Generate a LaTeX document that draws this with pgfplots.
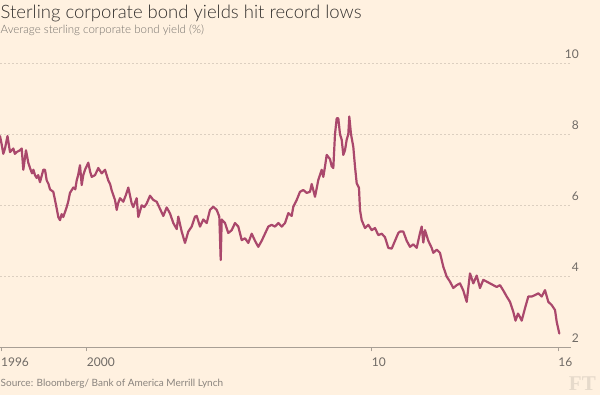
\documentclass[border=0pt]{standalone}
\usepackage{fontspec}
\setmainfont{Lato}
\newfontfamily\lightfont{Lato}[UprightFont=* Light]
\newfontfamily\logofont{Liberation Serif}
\usepackage{pgfplots}
\pgfplotsset{compat=1.18}
\definecolor{bg}{HTML}{FFF1E0}
\definecolor{linec}{HTML}{AA486C}
\definecolor{gridc}{HTML}{DCCFC0}
\definecolor{axisc}{HTML}{A89F95}
\definecolor{titlec}{HTML}{33302E}
\definecolor{subc}{HTML}{74706B}
\definecolor{tickc}{HTML}{6F6A65}
\definecolor{srcc}{HTML}{8A847E}
\definecolor{logoc}{HTML}{E6DACB}
\pgfplotstableread{
x y
1996.958 7.95
1997.020 7.70
1997.074 7.45
1997.133 7.60
1997.221 7.95
1997.270 7.70
1997.309 7.50
1997.425 7.60
1997.480 7.45
1997.544 7.50
1997.660 7.55
1997.719 7.60
1997.776 7.00
1997.870 7.55
1997.951 7.20
1998.011 7.05
1998.081 6.90
1998.130 7.00
1998.186 6.85
1998.246 6.77
1998.300 6.85
1998.361 6.65
1998.477 7.00
1998.537 7.00
1998.597 6.70
1998.660 6.60
1998.712 6.45
1998.828 6.38
1998.888 6.15
1998.950 5.90
1999.004 5.67
1999.063 5.58
1999.120 5.75
1999.179 5.67
1999.298 5.95
1999.350 6.10
1999.414 6.35
1999.530 6.50
1999.600 6.45
1999.649 6.70
1999.700 6.85
1999.765 7.13
1999.825 6.57
1999.880 6.85
1999.940 7.00
2000.056 7.20
2000.120 6.95
2000.176 6.80
2000.291 6.85
2000.350 6.95
2000.407 7.05
2000.526 6.90
2000.642 7.00
2000.700 6.85
2000.758 6.70
2000.820 6.60
2000.877 6.42
2000.993 6.15
2001.053 5.87
2001.100 6.05
2001.169 6.20
2001.284 6.10
2001.380 6.30
2001.460 6.50
2001.579 6.05
2001.635 5.95
2001.754 6.20
2001.811 5.67
2001.930 6.00
2002.020 5.95
2002.105 6.05
2002.221 6.27
2002.337 6.15
2002.456 6.10
2002.572 5.90
2002.688 5.70
2002.807 5.94
2002.923 5.77
2003.039 5.50
2003.158 5.33
2003.214 5.68
2003.333 5.26
2003.449 4.94
2003.565 5.26
2003.684 5.40
2003.800 5.68
2003.860 5.70
2003.976 5.40
2004.091 5.60
2004.211 5.50
2004.326 5.87
2004.442 5.96
2004.562 5.87
2004.653 5.68
2004.702 4.46
2004.737 5.60
2004.853 5.50
2004.969 5.22
2005.088 5.30
2005.204 5.50
2005.320 5.40
2005.439 5.02
2005.555 5.07
2005.670 4.94
2005.790 5.20
2005.905 5.00
2006.021 4.83
2006.140 5.00
2006.256 5.20
2006.372 5.40
2006.491 5.45
2006.607 5.40
2006.723 5.50
2006.842 5.40
2006.958 5.50
2007.074 5.78
2007.193 5.70
2007.249 5.96
2007.368 6.15
2007.484 6.38
2007.600 6.43
2007.719 6.35
2007.835 6.38
2007.895 6.60
2008.011 6.24
2008.126 6.71
2008.246 7.00
2008.302 6.80
2008.361 7.09
2008.421 7.42
2008.537 7.30
2008.596 7.10
2008.653 7.05
2008.712 8.00
2008.772 8.45
2008.828 8.45
2008.888 8.00
2008.947 7.85
2009.004 7.42
2009.063 7.55
2009.123 7.85
2009.179 8.00
2009.214 8.50
2009.274 8.00
2009.354 7.65
2009.414 7.09
2009.474 6.62
2009.554 6.49
2009.589 5.87
2009.649 5.58
2009.765 5.36
2009.881 5.45
2010.000 5.30
2010.116 5.36
2010.232 5.16
2010.351 5.20
2010.467 5.10
2010.583 4.80
2010.702 4.78
2010.818 5.00
2010.934 5.22
2010.993 5.26
2011.109 5.26
2011.228 5.00
2011.344 4.83
2011.460 4.90
2011.579 4.80
2011.695 5.22
2011.754 5.40
2011.811 4.95
2011.870 5.30
2011.986 5.00
2012.105 4.80
2012.161 4.66
2012.281 4.75
2012.396 4.66
2012.512 4.27
2012.632 3.99
2012.747 3.85
2012.863 3.67
2012.982 3.75
2013.098 3.80
2013.214 3.60
2013.333 3.28
2013.449 4.08
2013.565 3.80
2013.684 4.02
2013.800 3.67
2013.916 3.90
2014.035 3.85
2014.151 3.80
2014.267 3.75
2014.386 3.70
2014.502 3.75
2014.618 3.60
2014.737 3.43
2014.853 3.28
2014.968 3.00
2015.046 2.75
2015.133 2.95
2015.204 2.85
2015.263 2.75
2015.379 3.10
2015.495 3.43
2015.614 3.43
2015.730 3.47
2015.846 3.52
2015.965 3.43
2016.081 3.61
2016.197 3.28
2016.316 3.19
2016.432 3.05
2016.491 2.72
2016.582 2.39
}\bondyield
\begin{document}
\begin{tikzpicture}[x=1pt,y=1pt]
\fill[bg] (0,0) rectangle (600,395);
\begin{axis}[
  at={(0pt,47.7pt)}, anchor=south west,
  scale only axis, width=571pt, height=284pt,
  xmin=1996.958, xmax=2016.993, ymin=2, ymax=10,
  axis x line*=bottom, axis y line*=right,
  x axis line style={draw=axisc, line width=0.8pt, -},
  y axis line style={draw=none},
  xtick={1996.99,2000,2010,2016.547},
  xticklabels={1996,2000,10,16},
  ytick={2,4,6,8,10},
  tick align=outside, major tick length=4pt,
  xtick style={draw=axisc, line width=0.8pt},
  ytick style={draw=none},
  ymajorgrids,
  major grid style={draw=gridc, dash pattern=on 2pt off 2pt, line width=0.8pt},
  /pgf/number format/assume math mode=true,
  tick label style={font=\fontsize{12}{12}\selectfont, text=tickc},
  xticklabel style={anchor=north west, inner sep=0pt, yshift=-6.7pt},
  yticklabel style={anchor=base east, inner sep=0pt, xshift=4pt, yshift=4.3pt},
  clip=false,
]
\addplot[line width=2.2pt, color=linec, line join=round, line cap=round] table[x=x,y=y] {\bondyield};
\end{axis}
\node[anchor=base west, inner sep=0pt, text=titlec, font=\lightfont\fontsize{18.5}{18.5}\selectfont] at (0.5,376.7) {Sterling corporate bond yields hit record lows};
\node[anchor=base west, inner sep=0pt, text=subc, font=\lightfont\fontsize{11.5}{11.5}\selectfont] at (0.5,361.7) {Average sterling corporate bond yield (\%)};
\node[anchor=base west, inner sep=0pt, text=srcc, font=\fontsize{10}{10}\selectfont] at (0.5,8) {Source: Bloomberg/ Bank of America Merrill Lynch};
\node[anchor=base east, inner sep=0pt, text=logoc, font=\logofont\bfseries\fontsize{21}{21}\selectfont] at (596,4) {FT};
\pgfresetboundingbox
\path (0,0) rectangle (600,395);
\end{tikzpicture}
\end{document}
